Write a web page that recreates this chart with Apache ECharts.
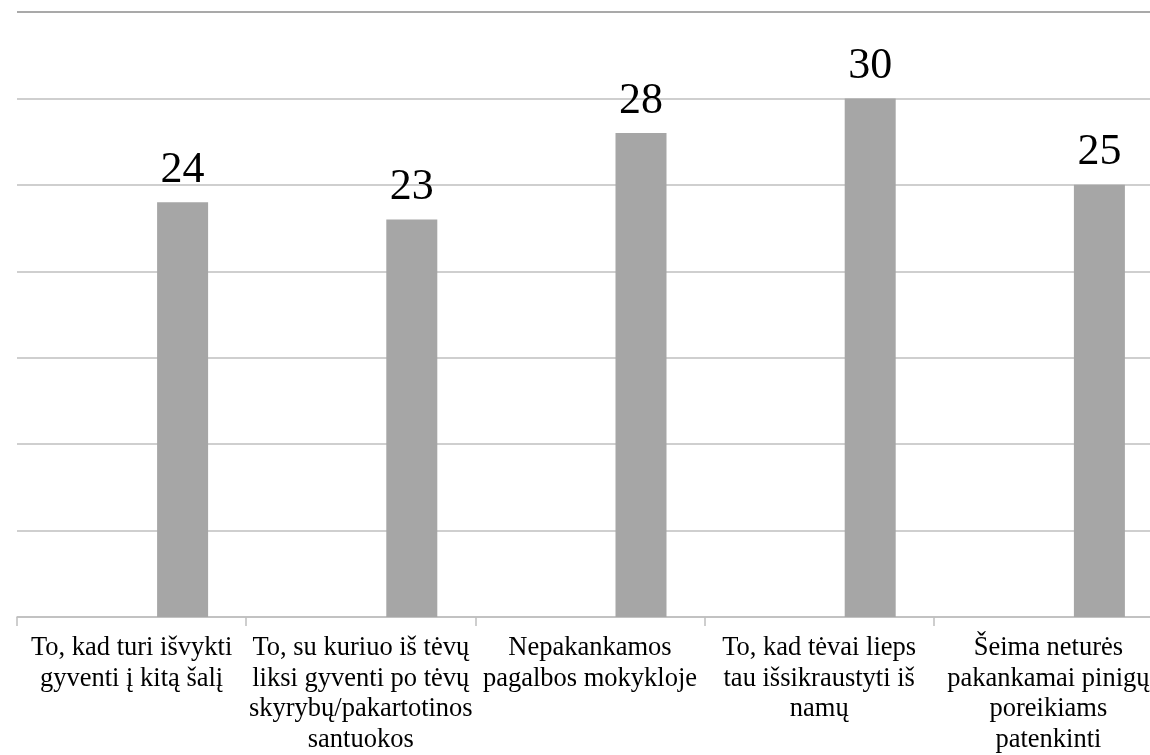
<!DOCTYPE html>
<html><head><meta charset="utf-8">
<script src="https://cdn.jsdelivr.net/npm/echarts@6/dist/echarts.min.js"></script>
<style>html,body{margin:0;padding:0;background:#fff;overflow:hidden}#c{width:1163px;height:755px}</style>
</head><body><div id="c"></div>
<script>
const categories = [
  "To, kad turi išvykti\ngyventi į kitą šalį",
  "To, su kuriuo iš tėvų\nliksi gyventi po tėvų\nskyrybų/pakartotinos\nsantuokos",
  "Nepakankamos\npagalbos mokykloje",
  "To, kad tėvai lieps\ntau išsikraustyti iš\nnamų",
  "Šeima neturės\npakankamai pinigų\nporeikiams\npatenkinti"
];
const values = [24, 23, 28, 30, 25];
const emptySeries = [null, null, null, null, null];

const chart = echarts.init(document.getElementById('c'));
chart.setOption({
  animation: false,
  grid: { left: 17, right: 0, top: 12, bottom: 138 },
  xAxis: {
    type: 'category',
    data: categories,
    axisLine: { lineStyle: { color: '#bfbfbf', width: 1.5 } },
    axisTick: { show: true, length: 9, lineStyle: { color: '#bfbfbf', width: 1.5 } },
    axisLabel: {
      interval: 0, margin: 16,
      fontFamily: 'Liberation Serif', fontSize: 26.5, lineHeight: 30.5, color: '#000'
    }
  },
  yAxis: {
    type: 'value', min: 0, max: 35, interval: 5,
    axisLabel: { show: false },
    axisLine: { show: false },
    axisTick: { show: false },
    splitLine: { lineStyle: { color: ['#bfbfbf','#bfbfbf','#bfbfbf','#bfbfbf','#bfbfbf','#bfbfbf','#bfbfbf','#8c8c8c'], width: 1.5 } }
  },
  series: [
    { type: 'bar', data: emptySeries, barWidth: 51, barGap: '100%' },
    {
      type: 'bar', data: values, barWidth: 51, barGap: '100%',
      itemStyle: { color: '#a6a6a6' },
      label: {
        show: true, position: 'top', distance: 10,
        fontFamily: 'Liberation Serif', fontSize: 44, color: '#000'
      }
    }
  ]
});
</script></body></html>
